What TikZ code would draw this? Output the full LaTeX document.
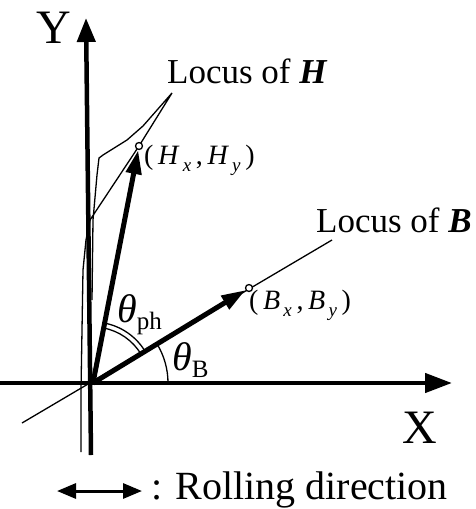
\documentclass[tikz,border=0pt]{standalone}
\usepackage{fontspec}
\setmainfont{Liberation Serif}
\usetikzlibrary{arrows.meta,calc}
\newcommand{\csub}[2]{\textit{#1}\raisebox{-7pt}{\fontsize{19}{19}\selectfont\,\textit{#2}}}
\begin{document}
\begin{tikzpicture}[x=1pt,y=-1pt,
  axis/.style={line width=4.5pt},
  thinl/.style={line width=1.3pt},
  vec/.style={line width=5pt,-{Triangle[length=24pt,width=15pt]}},
  circ/.style={circle,draw,fill=white,line width=1.3pt,inner sep=0pt,minimum size=7pt},
  lbl/.style={anchor=base west,inner sep=0pt},
  big/.style={font=\fontsize{48}{50}\selectfont,inner sep=0pt},
  loc/.style={lbl,font=\fontsize{35}{38}\selectfont},
  crd/.style={lbl,font=\fontsize{28}{30}\selectfont},
  ang/.style={lbl,font=\fontsize{40}{42}\selectfont}]
\useasboundingbox (0,0) rectangle (476,509);
% coordinates
\coordinate (O) at (93,383);
\coordinate (Xs) at (0,383);
\coordinate (Xt) at (452,383);
\coordinate (Yb) at (91,455);
\coordinate (Yt) at (86,18);
\coordinate (Ht) at (172,93);
\coordinate (LB1) at (22,423);
\coordinate (LB2) at (332,240);
% locus of B
\draw[thinl] (LB1) -- (LB2);
% locus of H
\draw[thinl] (81,452) -- (81,390) -- (83,270) -- (86,240) -- (90,220) -- (139,146) -- (Ht)
  -- (143,126) -- (127,140) -- (103,155) -- (99,158) -- (97,175) -- (93,220) -- (92,300);
% axes
\draw[axis,-{Triangle[length=27pt,width=19pt]}] (Xs) -- (Xt);
\draw[axis,-{Triangle[length=24pt,width=18pt]}] (Yb) -- (Yt);
% circles
\node[circ] (Hc) at (139,146) {};
\node[circ] (Bc) at (249,288) {};
% vectors
\draw[vec] (O) -- (Hc);
\draw[vec] (O) -- (Bc);
% angle arcs
\draw[thinl] ($(O)+(75,0)$) arc[start angle=0,end angle=-31.3,radius=75];
\draw[thinl] ($(O)+({56*cos(31.3)},{-56*sin(31.3)})$) arc[start angle=-31.3,end angle=-79.3,radius=56];
\draw[thinl] ($(O)+({61*cos(31.3)},{-61*sin(31.3)})$) arc[start angle=-31.3,end angle=-79.3,radius=61];
% labels
\node[big] (Yl) at (54,28) {Y};
\node[big] (Xl) at (420,428) {X};
\node[loc] (LHt) at (167,83) {Locus of \textbf{\textit{H}}};
\node[loc] (LBt) at (316,232) {Locus of \textbf{\textit{B}}};
\node[crd] (HL) at (144,164) {(\,\csub{H}{x}\,,\,\csub{H}{y}\,)};
\node[crd] (BL) at (249,309) {(\,\csub{B}{x}\,,\,\csub{B}{y}\,)};
\node[ang] (Tph) at (117,322) {\textit{θ}\raisebox{-7pt}{\fontsize{25}{25}\selectfont ph}};
\node[ang] (TB) at (172,370) {\textit{θ}\raisebox{-7pt}{\fontsize{25}{25}\selectfont B}};
% rolling direction
\coordinate (RL) at (57,491);
\coordinate (RR) at (142,491);
\draw[line width=3pt,{Triangle[length=19pt,width=15pt]}-{Triangle[length=19pt,width=15pt]}] (RL) -- (RR);
\node[lbl,font=\fontsize{40}{42}\selectfont] (RD) at (151,499) {: Rolling direction};
\end{tikzpicture}
\end{document}
